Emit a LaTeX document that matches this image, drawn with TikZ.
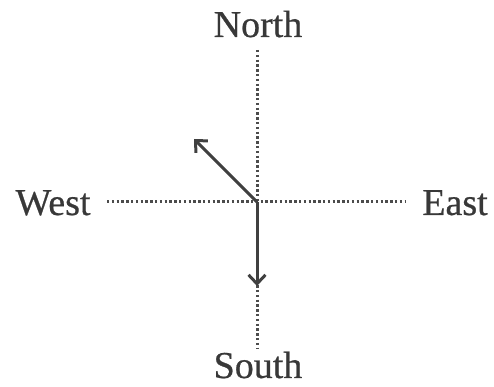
\documentclass[tikz,border=0pt]{standalone}
\usepackage{fontspec}
\setmainfont[FakeBold=0.6]{Liberation Serif}
\usetikzlibrary{arrows.meta}
\begin{document}
\begin{tikzpicture}[x=1pt,y=1pt,
  lbl/.style={font=\fontsize{38}{40}\selectfont, text=black!78, inner sep=0pt, anchor=base},
  dotline/.style={line width=3pt, black!70, dash pattern=on 2.4pt off 2.4pt},
  vec/.style={line width=3pt, black!75, -{Straight Barb[length=9pt,width=17pt,line width=3pt]}}]
\useasboundingbox (0,0) rectangle (494,387);
\coordinate (O) at (257,185);
\coordinate (N) at (257,337);
\coordinate (S) at (257,38);
\coordinate (W) at (107,185);
\coordinate (E) at (405,185);
\coordinate (NW) at (194,248);
\coordinate (D) at (257,101);
\node[lbl] (north) at (258,350) {North};
\node[lbl] (south) at (258,9) {South};
\node[lbl] (west) at (53,172) {West};
\node[lbl] (east) at (455,172) {East};
\draw[dotline] (N) -- (S);
\draw[dotline] (W) -- (E);
\draw[vec] (O) -- (NW);
\draw[vec] (O) -- (D);
\end{tikzpicture}
\end{document}
